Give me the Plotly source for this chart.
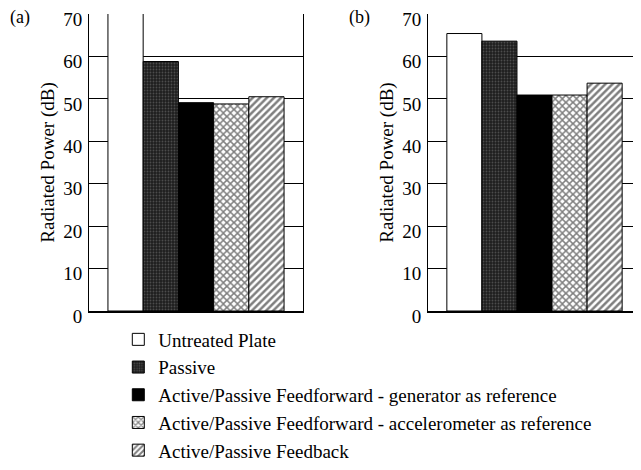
import plotly.graph_objects as go

series_names = [
    "Untreated Plate",
    "Passive",
    "Active/Passive Feedforward - generator as reference",
    "Active/Passive Feedforward - accelerometer as reference",
    "Active/Passive Feedback",
]
values_a = [75.0, 58.8, 49.1, 48.8, 50.5]
values_b = [65.4, 63.6, 50.9, 50.9, 53.7]
y_ticks = [0, 10, 20, 30, 40, 50, 60, 70]
panel_labels = ["(a)", "(b)"]

styles = [
    dict(color="white", pattern=dict(shape="")),
    dict(color="#1e1e1e", pattern=dict(shape=".", fgcolor="#7a7a7a", bgcolor="#1e1e1e", size=3, solidity=0.3)),
    dict(color="black", pattern=dict(shape="")),
    dict(color="white", pattern=dict(shape="x", fgcolor="black", bgcolor="white", size=5, solidity=0.5)),
    dict(color="white", pattern=dict(shape="/", fgcolor="black", bgcolor="white", size=5, solidity=0.5)),
]

FONT = "Liberation Serif"

fig = go.Figure()
for i, name in enumerate(series_names):
    for panel, vals in ((1, values_a), (2, values_b)):
        st = styles[i]
        fig.add_trace(go.Bar(
            x=["c"], y=[vals[i]], name=name,
            legendgroup=name, showlegend=(panel == 1),
            marker=dict(color=st["color"], pattern=st["pattern"],
                        line=dict(color="black", width=1)),
            xaxis="x" if panel == 1 else "x2",
            yaxis="y" if panel == 1 else "y2",
        ))

# page is rendered with an 8px body margin, so figure is sized to fit the window
W, H = 633, 462
axis_common = dict(
    range=[0, 70], tickvals=y_ticks, showgrid=True, gridcolor="black", gridwidth=1,
    showline=True, linecolor="black", linewidth=1, ticks="", ticklabelstandoff=2,
    ticklabelshift=5, ticklabeloverflow="allow",
    tickfont=dict(family=FONT, size=19, color="black"),
    title=dict(text="Radiated Power (dB)", font=dict(family=FONT, size=19, color="black"), standoff=3),
    zeroline=False, mirror=True, automargin=False,
)
xaxis_common = dict(showticklabels=False, ticks="", showline=True, linecolor="black",
                    linewidth=2, showgrid=False, zeroline=False, automargin=False)

fig.update_layout(
    width=W, height=H,
    margin=dict(l=0, r=0, t=6, b=155),
    paper_bgcolor="white", plot_bgcolor="white",
    font=dict(family=FONT, color="black"),
    barmode="group", bargap=0.177, bargroupgap=0,
    xaxis=dict(domain=[81 / W, 295 / W], anchor="y", **xaxis_common),
    xaxis2=dict(domain=[420 / W, 1.0], anchor="y2", **xaxis_common),
    yaxis=dict(anchor="x", **axis_common),
    yaxis2=dict(anchor="x2", **axis_common),
    legend=dict(x=110.3 / W, y=-0.032, xanchor="left", yanchor="top",
                font=dict(family=FONT, size=19, color="black"),
                tracegroupgap=0, bgcolor="rgba(0,0,0,0)"),
    showlegend=True,
    annotations=[
        dict(text=panel_labels[0], x=0, y=0.987, xref="paper", yref="paper",
             xanchor="left", yanchor="middle", showarrow=False,
             font=dict(family=FONT, size=18, color="black")),
        dict(text=panel_labels[1], x=339 / W, y=0.987, xref="paper", yref="paper",
             xanchor="left", yanchor="middle", showarrow=False,
             font=dict(family=FONT, size=18, color="black")),
    ],
)

fig.write_html("out.html")
